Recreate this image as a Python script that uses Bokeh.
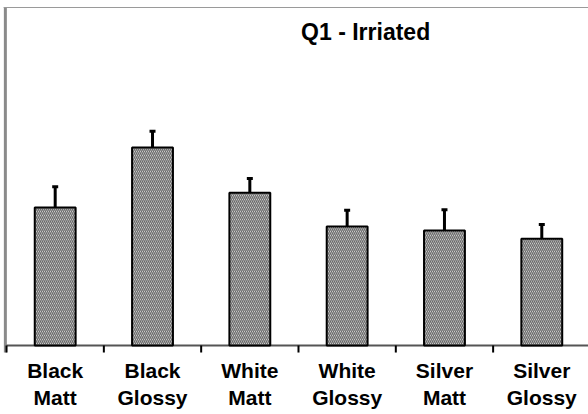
from bokeh.plotting import figure
from bokeh.models import ColumnDataSource, Whisker, TeeHead, Range1d
from bokeh.core.properties import value
from bokeh.embed import file_html
from bokeh.resources import INLINE

categories = ["Black\nMatt", "Black\nGlossy", "White\nMatt", "White\nGlossy", "Silver\nMatt", "Silver\nGlossy"]
means = [2.04, 2.93, 2.26, 1.76, 1.70, 1.58]
errors = [0.31, 0.24, 0.21, 0.24, 0.31, 0.21]
title_text = "Q1 - Irriated"

n = len(categories)
xs = [i + 0.5 for i in range(n)]
src = ColumnDataSource(dict(x=xs, top=means, upper=[m + e for m, e in zip(means, errors)]))

X0, X1 = -0.062, 5.98
Y0, Y1 = -1.0207, 5.1036
p = figure(width=588, height=414, output_backend="svg", toolbar_location=None,
           x_range=Range1d(X0, X1), y_range=Range1d(Y0, Y1),
           min_border=0, min_border_left=0, min_border_right=0, min_border_top=0,
           min_border_bottom=0)
p.outline_line_color = None
p.grid.visible = False
p.axis.visible = False
p.background_fill_color = "white"
p.border_fill_color = "white"

# frame lines (left and top) and the category axis line
p.segment(x0=[-0.012], y0=[-0.104], x1=[-0.012], y1=[5.0], line_color="#8a8a8a", line_width=3)
p.segment(x0=[-0.03], y0=[5.0], x1=[X1], y1=[5.0], line_color="#9a9a9a", line_width=1)
p.segment(x0=[0], y0=[0], x1=[X1], y1=[0], line_color="#555555", line_width=2)

# boundary ticks between categories
bounds = list(range(n + 1))
p.segment(x0=bounds, y0=[0] * len(bounds), x1=bounds, y1=[-0.104] * len(bounds),
          line_color="black", line_width=2)

p.vbar(x="x", top="top", bottom=0, width=0.42, source=src,
       fill_color="#ececec", line_color="black", line_width=2,
       hatch_pattern="\\", hatch_color="#6a6a6a", hatch_scale=4, hatch_weight=1.4)

w = Whisker(base="x", lower="top", upper="upper", source=src,
            line_color="black", line_width=3,
            upper_head=TeeHead(size=6, line_width=3, line_color="black"),
            lower_head=None)
p.add_layout(w)

line1 = [c.split("\n")[0] for c in categories]
line2 = [c.split("\n")[1] for c in categories]
p.text(x=xs, y=[-0.37] * n, text=line1, text_align="center", text_baseline="alphabetic",
       text_font=value("Liberation Sans"), text_font_style="bold",
       text_font_size="21px", text_color="black")
p.text(x=xs, y=[-0.77] * n, text=line2, text_align="center", text_baseline="alphabetic",
       text_font=value("Liberation Sans"), text_font_style="bold",
       text_font_size="21px", text_color="black")

p.text(x=[3.69], y=[4.637], text=[title_text], text_align="center", text_baseline="alphabetic",
       text_font=value("Liberation Sans"), text_font_style="bold",
       text_font_size="23px", text_color="black")

open("out.html", "w").write(file_html(p, INLINE))
